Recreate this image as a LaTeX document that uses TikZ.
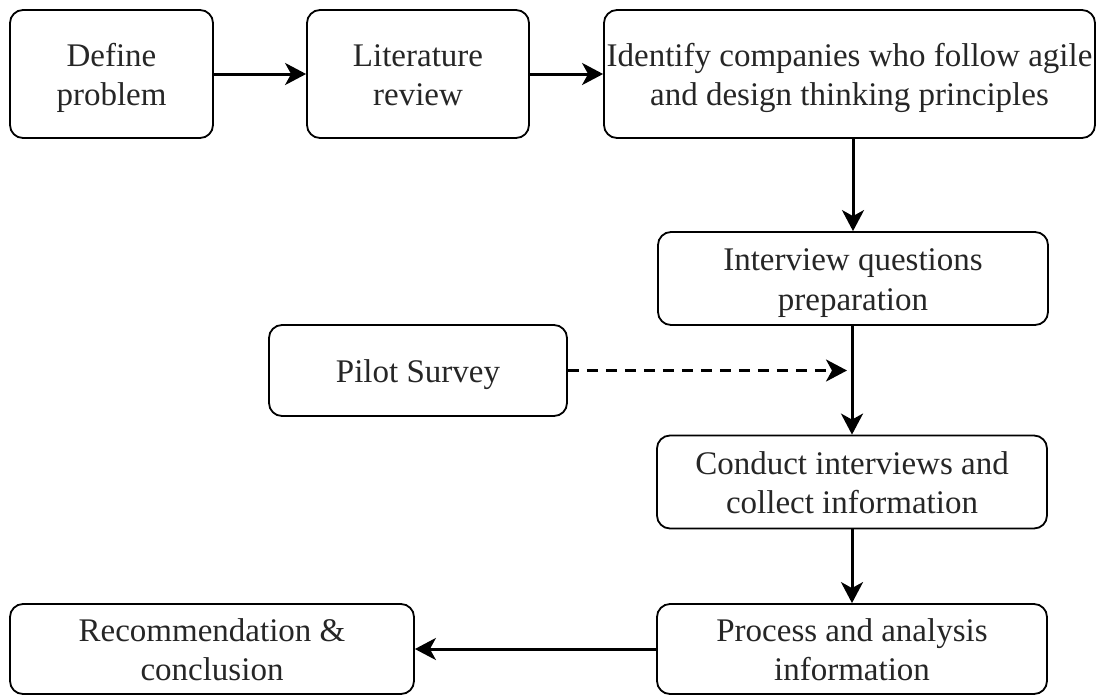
\documentclass[tikz,border=0pt]{standalone}
\usepackage{fontspec}
\setmainfont{Liberation Serif}
\usetikzlibrary{arrows.meta}
% struts so every label is centred on font metrics, not on glyph extents
\newcommand\topstrut{\rule{0pt}{31pt}}
\newcommand\botstrut{\rule[-7pt]{0pt}{7pt}}
\begin{document}
\begin{tikzpicture}[x=1pt,y=-1pt,
  stepbox/.style={draw=black, line width=1.8pt, rounded corners=13pt, inner sep=0pt,
    align=center, font=\fontsize{33}{39.5}\selectfont, text=black!85},
  flow/.style={line width=3pt, -{Stealth[length=21pt,width=22pt,inset=6pt]}},
  dashflow/.style={flow, dash pattern=on 11pt off 8pt}]
\useasboundingbox (0,0) rectangle (1106,697);
\node[stepbox, minimum width=203pt, minimum height=128pt] (def) at (111.5,74) {\topstrut Define\\problem\botstrut};
\node[stepbox, minimum width=222pt, minimum height=128pt] (lit) at (418,74) {\topstrut Literature\\review\botstrut};
\node[stepbox, minimum width=491pt, minimum height=128pt] (ident) at (849.5,74) {\topstrut Identify companies who follow agile\\and design thinking principles\botstrut};
\node[stepbox, minimum width=390pt, minimum height=93pt] (intv) at (853,278.5) {\topstrut Interview questions\\preparation\botstrut};
\node[stepbox, minimum width=298pt, minimum height=91pt] (pilot) at (418,370.5) {\topstrut Pilot Survey\botstrut};
\node[stepbox, minimum width=390pt, minimum height=93pt] (cond) at (852,482) {\topstrut Conduct interviews and\\collect information\botstrut};
\node[stepbox, minimum width=390pt, minimum height=90pt] (proc) at (852,649) {\topstrut Process and analysis\\information\botstrut};
\node[stepbox, minimum width=404pt, minimum height=90pt] (rec) at (212,649) {\topstrut Recommendation \&\\conclusion\botstrut};
\coordinate (dashend) at (cond.north |- pilot.east);
\draw[flow] (def) -- (lit);
\draw[flow] (lit) -- (ident);
\draw[flow] (intv.north |- ident.south) -- (intv.north);
\draw[flow] (cond.north |- intv.south) -- (cond.north);
\draw[dashflow, shorten >=5pt] (pilot.east) -- (dashend);
\draw[flow] (cond) -- (proc);
\draw[flow] (proc) -- (rec);
\end{tikzpicture}
\end{document}
